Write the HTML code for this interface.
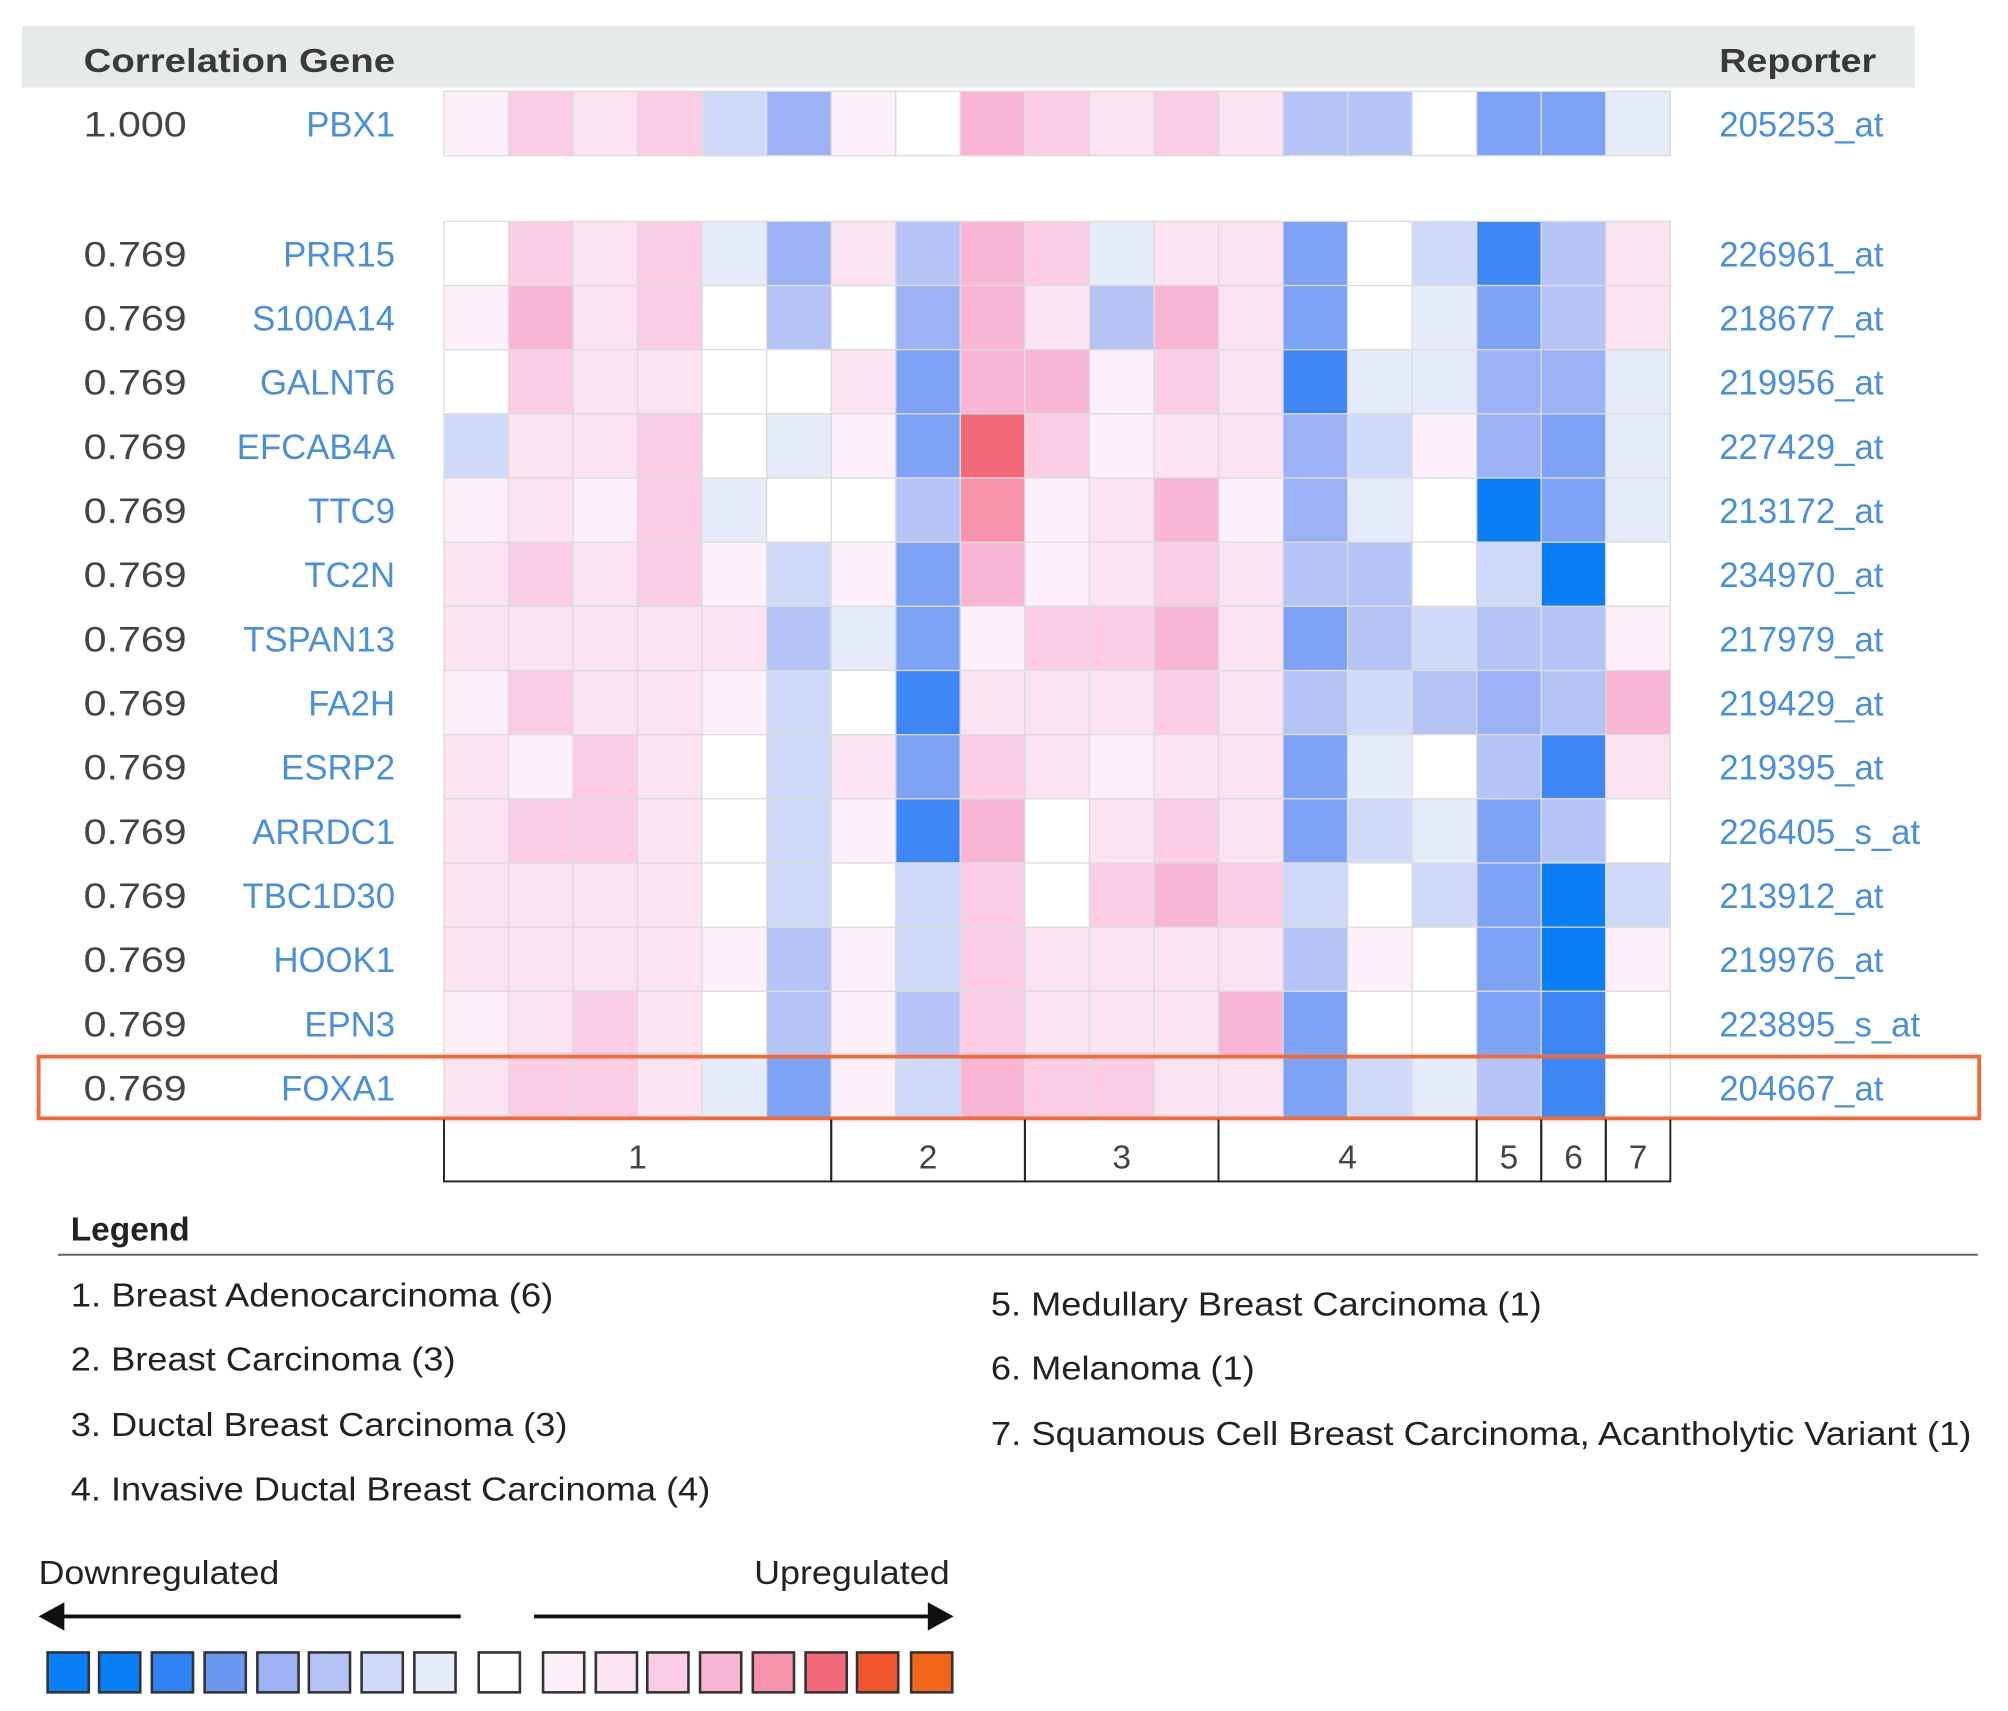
<!DOCTYPE html>
<html><head><meta charset="utf-8"><style>
html,body{margin:0;padding:0;background:#fff;}
svg{display:block;}
text{font-family:"Liberation Sans Narrow","Liberation Sans",sans-serif;}
</style></head><body>
<svg id="chart" xmlns="http://www.w3.org/2000/svg" width="2008" height="1711" viewBox="0 0 1560.4 1329.5" preserveAspectRatio="none">
<rect x="17" y="20" width="1471" height="48" fill="#e6eaea"/>
<text x="65" y="56" font-size="26" font-weight="bold" fill="#3a3a3a" textLength="242" lengthAdjust="spacingAndGlyphs">Correlation Gene</text>
<text x="1336" y="56" font-size="26" font-weight="bold" fill="#3a3a3a" textLength="122" lengthAdjust="spacingAndGlyphs">Reporter</text>
<g id="cells"></g>
<g id="labels"></g>
<rect x="30" y="821" width="1508" height="48" fill="none" stroke="#f26a35" stroke-width="3"/>
<g id="groups"></g>
<text x="55" y="964" font-size="26" font-weight="bold" fill="#222">Legend</text>
<line x1="45" y1="975" x2="1537" y2="975" stroke="#666" stroke-width="1.5"/>
<g id="legend"></g>
<text x="30" y="1231" font-size="26" fill="#222" textLength="187" lengthAdjust="spacingAndGlyphs">Downregulated</text>
<text x="586" y="1231" font-size="26" fill="#222" textLength="152" lengthAdjust="spacingAndGlyphs">Upregulated</text>
<line x1="45" y1="1256" x2="358" y2="1256" stroke="#111" stroke-width="3"/>
<polygon points="30,1256 50,1245 50,1267" fill="#111"/>
<line x1="415" y1="1256" x2="725" y2="1256" stroke="#111" stroke-width="3"/>
<polygon points="741,1256 721,1245 721,1267" fill="#111"/>
<g id="scale"></g>
</svg>
<script>
const NS="http://www.w3.org/2000/svg";
const levelColors={"-7":"#0a7ef5","-6":"#3f86f5","-5":"#7ea2f4","-4":"#9db2f4","-3":"#b6c4f5","-2":"#cfdaf8","-1":"#e6ebfa","0":"#ffffff","1":"#fdf0f8","2":"#fbe3f1","3":"#fbcde5","4":"#f9b5d4","5":"#f792ad","6":"#f26a7a"};
const corrs=["1.000","0.769","0.769","0.769","0.769","0.769","0.769","0.769","0.769","0.769","0.769","0.769","0.769","0.769","0.769"];
const genes=["PBX1","PRR15","S100A14","GALNT6","EFCAB4A","TTC9","TC2N","TSPAN13","FA2H","ESRP2","ARRDC1","TBC1D30","HOOK1","EPN3","FOXA1"];
const reporters=["205253_at","226961_at","218677_at","219956_at","227429_at","213172_at","234970_at","217979_at","219429_at","219395_at","226405_s_at","213912_at","219976_at","223895_s_at","204667_at"];
const values=[
[1,3,2,3,-2,-4,1,0,4,3,2,3,2,-3,-3,0,-5,-5,-1],
[0,3,2,3,-1,-4,2,-3,4,3,-1,2,2,-5,0,-2,-6,-3,2],
[1,4,2,3,0,-3,0,-4,4,2,-3,4,2,-5,0,-1,-5,-3,2],
[0,3,2,2,0,0,2,-5,4,4,1,3,2,-6,-1,-1,-4,-4,-1],
[-2,2,2,3,0,-1,1,-5,6,3,1,2,2,-4,-2,1,-4,-5,-1],
[1,2,1,3,-1,0,0,-3,5,1,2,4,1,-4,-1,0,-7,-5,-1],
[2,3,2,3,1,-2,1,-5,4,1,2,3,2,-3,-3,0,-2,-7,0],
[2,2,2,2,2,-3,-1,-5,1,3,3,4,2,-5,-3,-2,-3,-3,1],
[1,3,2,2,1,-2,0,-6,2,2,2,3,2,-3,-2,-3,-4,-3,4],
[2,1,3,2,0,-2,2,-5,3,2,1,2,2,-5,-1,0,-3,-6,2],
[2,3,3,2,0,-2,1,-6,4,0,2,3,2,-5,-2,-1,-5,-3,0],
[2,2,2,2,0,-2,0,-2,3,0,3,4,3,-2,0,-2,-5,-7,-2],
[2,2,2,2,1,-3,1,-2,3,2,2,2,2,-3,1,0,-5,-7,1],
[1,2,3,2,0,-3,1,-3,3,2,2,2,4,-5,0,0,-5,-6,0],
[2,3,3,2,-1,-5,1,-2,4,3,3,2,2,-5,-2,-1,-3,-6,0]];
const groupLabels=["1","2","3","4","5","6","7"];
const groupSizes=[6,3,3,4,1,1,1];
const legendItems=["1. Breast Adenocarcinoma (6)","2. Breast Carcinoma (3)","3. Ductal Breast Carcinoma (3)","4. Invasive Ductal Breast Carcinoma (4)","5. Medullary Breast Carcinoma (1)","6. Melanoma (1)","7. Squamous Cell Breast Carcinoma, Acantholytic Variant (1)"];
const legendWidths=[375,299,386,497,428,205,762];
const scaleLevels=[-7,-7,-6,-5,-4,-3,-2,-1,0,1,2,3,4,5,6,7,8];
const scaleColors={"-7":"#0a7ef5","-6":"#2f82f2","-5":"#6a98f1","-4":"#9db2f4","-3":"#b6c4f5","-2":"#cfdaf8","-1":"#e6ebfa","0":"#ffffff","1":"#fdf0f8","2":"#fbe3f1","3":"#fbcde5","4":"#f9b5d4","5":"#f792ad","6":"#f26a7a","7":"#f0552e","8":"#f2661a"};

const x0=345,cw=(1298-345)/19;
function xCol(i){return x0+i*cw;}
function yRow(r){return r===0?71:172+(r-1)*(870-172)/14;}
const rh=(870-172)/14;

const cells=document.getElementById('cells');
const labels=document.getElementById('labels');
values.forEach((row,r)=>{
  row.forEach((v,c)=>{
    const el=document.createElementNS(NS,'rect');
    
    
    el.setAttribute('x',xCol(c));el.setAttribute('y',yRow(r));
    el.setAttribute('width',cw);el.setAttribute('height',r===0?50:rh);
    el.setAttribute('fill',levelColors[String(Math.max(-7,Math.min(6,v)))]);
    el.setAttribute('stroke','#dcdcdc');el.setAttribute('stroke-width','1');
    cells.appendChild(el);
  });
  const ty=yRow(r)+(r===0?50:rh)/2+10;
  const t1=document.createElementNS(NS,'text');
  
  
  t1.setAttribute('x',65);t1.setAttribute('y',ty);t1.setAttribute('font-size','27');t1.setAttribute('fill','#444');
  t1.setAttribute('textLength','80');t1.setAttribute('lengthAdjust','spacingAndGlyphs');
  t1.textContent=corrs[r];labels.appendChild(t1);
  const t2=document.createElementNS(NS,'text');
  
  
  t2.setAttribute('x',307);t2.setAttribute('y',ty);t2.setAttribute('font-size','27');t2.setAttribute('fill','#4a8fdc');
  t2.setAttribute('text-anchor','end');
  t2.textContent=genes[r];labels.appendChild(t2);
  const t3=document.createElementNS(NS,'text');
  
  
  t3.setAttribute('x',1336);t3.setAttribute('y',ty);t3.setAttribute('font-size','27');t3.setAttribute('fill','#4a8fdc');
  t3.textContent=reporters[r];labels.appendChild(t3);
});

const groups=document.getElementById('groups');
let start=0;
groupSizes.forEach((s,i)=>{
  const xa=xCol(start),xb=xCol(start+s);
  const b=document.createElementNS(NS,'path');
  
  
  b.setAttribute('d',`M${xa},870 V918 H${xb} V870`);
  b.setAttribute('fill','none');b.setAttribute('stroke','#222');b.setAttribute('stroke-width','1.5');
  groups.appendChild(b);
  const t=document.createElementNS(NS,'text');
  
  
  t.setAttribute('x',(xa+xb)/2);t.setAttribute('y',908);t.setAttribute('font-size','26');t.setAttribute('fill','#444');
  t.setAttribute('text-anchor','middle');
  t.textContent=groupLabels[i];groups.appendChild(t);
  start+=s;
});

const legend=document.getElementById('legend');
const lpos=[[55,1015],[55,1065],[55,1116],[55,1166],[770,1022],[770,1072],[770,1123]];
legendItems.forEach((s,i)=>{
  const t=document.createElementNS(NS,'text');
  
  
  t.setAttribute('x',lpos[i][0]);t.setAttribute('y',lpos[i][1]);t.setAttribute('font-size','26');t.setAttribute('fill','#222');
  t.setAttribute('textLength',legendWidths[i]);t.setAttribute('lengthAdjust','spacingAndGlyphs');
  t.textContent=s;legend.appendChild(t);
});

const scale=document.getElementById('scale');
const sx=[37,77,118,159,200,240,281,322,372,422,463,503,544,585,626,666,708];
scaleLevels.forEach((lv,i)=>{
  const r=document.createElementNS(NS,'rect');
  
  
  r.setAttribute('x',sx[i]);r.setAttribute('y',1284);r.setAttribute('width',32);r.setAttribute('height',31);
  r.setAttribute('fill',scaleColors[String(lv)]);r.setAttribute('stroke','#333');r.setAttribute('stroke-width','2');
  scale.appendChild(r);
});
</script>
</body></html>
